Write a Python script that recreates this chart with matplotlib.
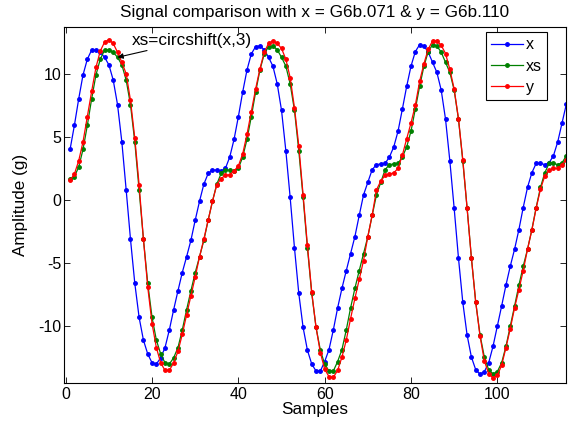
import numpy as np
import matplotlib
matplotlib.use('Agg')
import matplotlib.pyplot as plt

plt.rcParams['font.family'] = ['Liberation Sans', 'DejaVu Sans']
plt.rcParams['font.size'] = 11.5
plt.rcParams['axes.unicode_minus'] = False

# x signal (G6b.071), samples 1..116
x = [4.0, 5.9, 8.0, 9.9, 11.15, 11.87, 11.87, 11.7, 11.3, 10.7,
     9.5, 7.55, 4.6, 0.8, -3.1, -6.6, -9.3, -11.1, -12.2, -12.9,
     -13.0, -12.5, -11.7, -10.3, -8.7, -7.2, -5.75, -4.5, -3.2, -1.6,
     -0.1, 1.25, 2.1, 2.37, 2.37, 2.3, 2.5, 3.4, 4.8, 6.6,
     8.55, 10.3, 11.57, 12.15, 12.2, 11.9, 11.3, 10.6, 9.2, 7.1,
     3.9, 0.2, -3.8, -7.4, -10.1, -11.9, -13.0, -13.55, -13.55, -12.8,
     -11.85, -10.3, -8.55, -7.0, -5.6, -4.25, -2.9, -1.23, 0.4, 1.4,
     2.4, 2.8, 2.85, 2.9, 3.4, 4.2, 5.45, 7.2, 9.0, 10.6,
     11.75, 12.3, 12.2, 11.7, 10.9, 10.1, 8.7, 6.4, 3.1, -0.65,
     -4.6, -8.1, -10.7, -12.45, -13.45, -13.8, -13.6, -12.9, -11.6, -10.0,
     -8.4, -6.75, -5.25, -3.9, -2.35, -0.6, 1.0, 2.15, 2.9, 2.9,
     2.8, 2.95, 3.5, 4.6, 6.1, 7.6]

# first three samples of xs = circshift(x,3) (wrapped from the end of x)
xs_head = [1.7, 1.85, 2.6]

# y signal (G6b.110)
y = [1.55, 2.05, 3.1, 4.6, 6.6, 8.6, 10.5, 11.8, 12.5, 12.7,
     12.4, 11.7, 10.9, 10.0, 7.9, 4.9, 1.2, -3.1, -6.9, -9.8,
     -11.7, -12.9, -13.5, -13.5, -12.9, -12.0, -10.65, -9.1, -7.6, -6.1,
     -4.5, -3.1, -1.6, -0.1, 1.2, 1.7, 1.95, 2.0, 2.3, 2.7,
     3.65, 5.2, 7.0, 8.8, 10.4, 11.7, 12.4, 12.6, 12.4, 12.0,
     11.15, 9.7, 7.3, 4.3, 0.4, -3.6, -7.3, -10.1, -12.1, -13.4,
     -14.0, -14.05, -13.5, -12.45, -11.1, -9.4, -7.8, -6.3, -4.8, -2.9,
     -1.2, 0.8, 1.5, 1.95, 2.05, 2.15, 2.5, 3.55, 4.85, 6.1,
     7.5, 9.4, 10.8, 11.95, 12.6, 12.6, 12.25, 11.6, 10.35, 8.8,
     6.45, 3.2, -0.65, -4.6, -8.1, -10.8, -12.75, -13.75, -14.1, -13.9,
     -13.1, -11.7, -10.2, -8.55, -7.1, -5.6, -3.9, -2.4, -0.65, 0.85,
     1.9, 2.35, 2.5, 2.5, 2.8, 3.2]

n = np.arange(1, len(x) + 1)
xs = np.array(xs_head + x[:len(x) - 3])

fig = plt.figure(figsize=(5.68, 4.28), dpi=100)
ax = fig.add_axes([0.1127, 0.1051, 0.8829, 0.8318])

ax.plot(n, x, '.-', color=(0, 0, 1), lw=0.9, ms=5, label='x')
ax.plot(n, xs, '.-', color=(0, 0.5, 0), lw=0.9, ms=5, label='xs')
ax.plot(n, y, '.-', color=(1, 0, 0), lw=0.9, ms=5, label='y')

ax.set_xlim(-0.4, 115.8)
ax.set_ylim(-14.5, 13.7)
ax.set_xticks([0, 20, 40, 60, 80, 100])
ax.set_yticks([-10, -5, 0, 5, 10])
ax.tick_params(direction='in', top=True, right=True, length=4, width=0.6)
ax.tick_params(axis='x', pad=3)
ax.tick_params(axis='y', pad=2)
for s in ax.spines.values():
    s.set_linewidth(0.8)

ax.set_title('Signal comparison with x = G6b.071 & y = G6b.110', fontsize=12.3, pad=7)
ax.set_xlabel('Samples', fontsize=12.3, labelpad=0)
ax.set_ylabel('Amplitude (g)', fontsize=12.3, labelpad=7)

ax.annotate('xs=circshift(x,3)', xy=(12, 11.3), xytext=(15.3, 12.65),
            ha='left', va='center', fontsize=12.3,
            arrowprops=dict(arrowstyle='-|>', color='k', lw=0.8,
                            mutation_scale=8, shrinkA=0, shrinkB=0))

leg = ax.legend(loc='upper right', bbox_to_anchor=(0.9625, 0.985),
                borderaxespad=0, fancybox=False, framealpha=1,
                edgecolor='k', handlelength=2.0, handletextpad=0.2,
                borderpad=0.3, labelspacing=0.4, fontsize=11.5)
leg.get_frame().set_linewidth(0.8)

fig.savefig('out.png', dpi=100)
